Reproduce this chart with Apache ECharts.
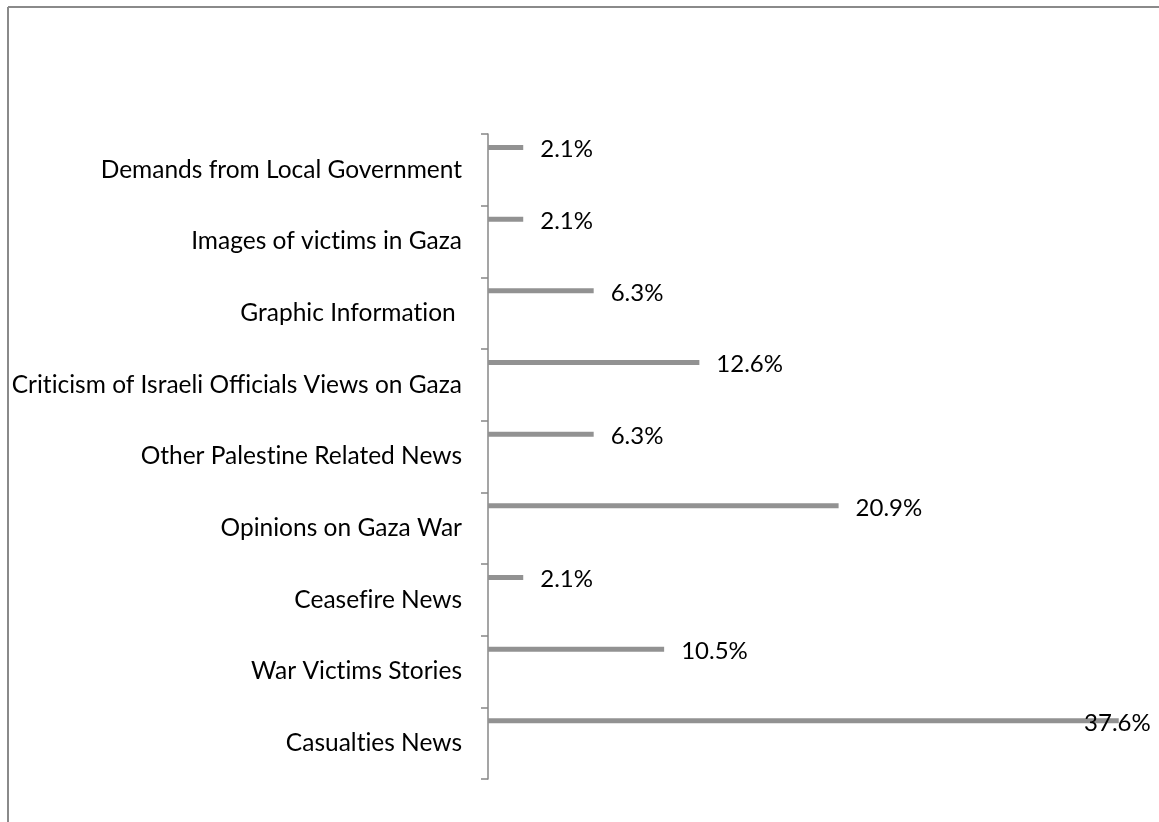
<!DOCTYPE html>
<html>
<head>
<meta charset="utf-8">
<script src="https://cdn.jsdelivr.net/npm/echarts@6/dist/echarts.min.js"></script>
<style>
html,body{margin:0;padding:0;background:#fff;}
#chart{width:1159px;height:822px;}
</style>
</head>
<body>
<div id="chart"></div>
<script>
// Categories listed bottom-to-top (ECharts category y-axis starts at the bottom)
const categories = [
  'Casualties News',
  'War Victims Stories',
  'Ceasefire News',
  'Opinions on Gaza War',
  'Other Palestine Related News',
  'Criticism of Israeli Officials Views on Gaza',
  'Graphic Information ',
  'Images of victims in Gaza',
  'Demands from Local Government'
];
const shares = [37.6, 10.5, 2.1, 20.9, 6.3, 12.6, 6.3, 2.1, 2.1];
const spacer = categories.map(() => '-');

const FONT = 'Lato, "Open Sans", sans-serif';
// break Lato's ligatures (ti, fi) so text looks like the reference
const noLig = s => s.replace(/t(?=i)/g, 't\u200C').replace(/f(?=i)/g, 'f\u200C');

const chart = echarts.init(document.getElementById('chart'), null, {renderer: 'canvas'});

const data = shares.map((v, i) => {
  if (i === 0) {
    return {
      value: v,
      label: {position: 'insideRight', distance: 5, offset: [37, 2]}
    };
  }
  return v;
});

chart.setOption({
  animation: false,
  backgroundColor: '#ffffff',
  graphic: [
    {type: 'line', shape: {x1: 8, y1: 7, x2: 1159, y2: 7}, style: {stroke: '#8a8a8a', lineWidth: 2}, silent: true},
    {type: 'line', shape: {x1: 8, y1: 7, x2: 8, y2: 822}, style: {stroke: '#8a8a8a', lineWidth: 2}, silent: true}
  ],
  grid: {left: 488, top: 134, width: 672, bottom: 43, containLabel: false},
  xAxis: {
    type: 'value', min: 0, max: 40, show: false
  },
  yAxis: {
    type: 'category',
    data: categories,
    axisLine: {show: true, lineStyle: {color: '#878787', width: 1.5}},
    axisTick: {show: true, length: 7, lineStyle: {color: '#878787', width: 1.5}},
    axisLabel: {color: '#000', fontFamily: FONT, fontSize: 24.5, margin: 26, formatter: v => noLig(v)},
    splitLine: {show: false}
  },
  series: [
    {
      type: 'bar',
      data: data,
      barWidth: 5,
      barGap: '792%',
      itemStyle: {color: '#929292'},
      label: {
        show: true,
        position: 'right',
        distance: 17,
        offset: [0, 2],
        color: '#000',
        fontFamily: FONT,
        fontSize: 24,
        formatter: p => p.value.toFixed(1) + '%'
      }
    },
    {
      type: 'bar',
      data: spacer,
      barWidth: 5,
      silent: true,
      itemStyle: {color: 'transparent'}
    }
  ]
});
</script>
</body>
</html>
